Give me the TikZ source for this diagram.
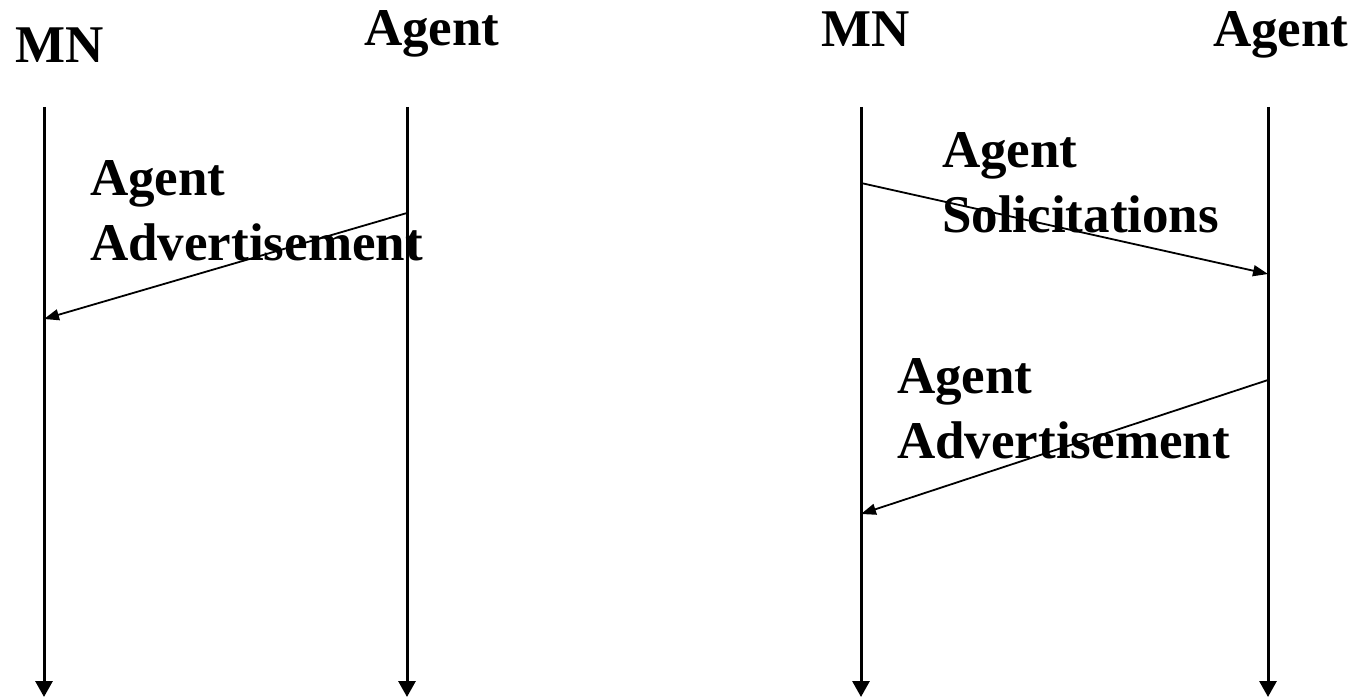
\documentclass[tikz,border=0pt]{standalone}
\usepackage{fontspec}
\setmainfont{Liberation Serif}
\usetikzlibrary{arrows.meta}
\begin{document}
\begin{tikzpicture}[x=1pt,y=-1pt,
  lifeline/.style={line width=3pt,-{Triangle[length=16pt,width=17pt]}},
  msg/.style={line width=1.8pt,-{Triangle[length=15pt,width=11pt]}},
  lbl/.style={inner sep=0pt,anchor=base west,align=left,
    font=\fontsize{53}{65}\selectfont\bfseries}]
\useasboundingbox (0,0) rectangle (1359,698);

% lifeline ends
\coordinate (mnA top) at (44,107);   \coordinate (mnA bot) at (44,697);
\coordinate (agA top) at (407,107);  \coordinate (agA bot) at (407,697);
\coordinate (mnB top) at (861,107);  \coordinate (mnB bot) at (861,697);
\coordinate (agB top) at (1268,107); \coordinate (agB bot) at (1268,697);

% headings
\node[lbl] (hMNa) at (15,63) {MN};
\node[lbl] (hAGa) at (364,46) {Agent};
\node[lbl] (hMNb) at (821,47) {MN};
\node[lbl] (hAGb) at (1213,47) {Agent};

% lifelines
\draw[lifeline] (mnA top) -- (mnA bot);
\draw[lifeline] (agA top) -- (agA bot);
\draw[lifeline] (mnB top) -- (mnB bot);
\draw[lifeline] (agB top) -- (agB bot);

% message end points
\coordinate (advA from) at (407,213);
\coordinate (advA to) at (44,319);
\coordinate (solB from) at (861,183);
\coordinate (solB to) at (1268,274);
\coordinate (advB from) at (1268,380);
\coordinate (advB to) at (861,514);

% messages
\draw[msg] (advA from) -- (advA to);
\draw[msg] (solB from) -- (solB to);
\draw[msg] (advB from) -- (advB to);

% message labels (anchored at the baseline of their last line)
\node[lbl] (tAdvA) at (90,260) {Agent\\Advertisement};
\node[lbl] (tSolB) at (942,232) {Agent\\Solicitations};
\node[lbl] (tAdvB) at (897,458) {Agent\\Advertisement};
\end{tikzpicture}
\end{document}
